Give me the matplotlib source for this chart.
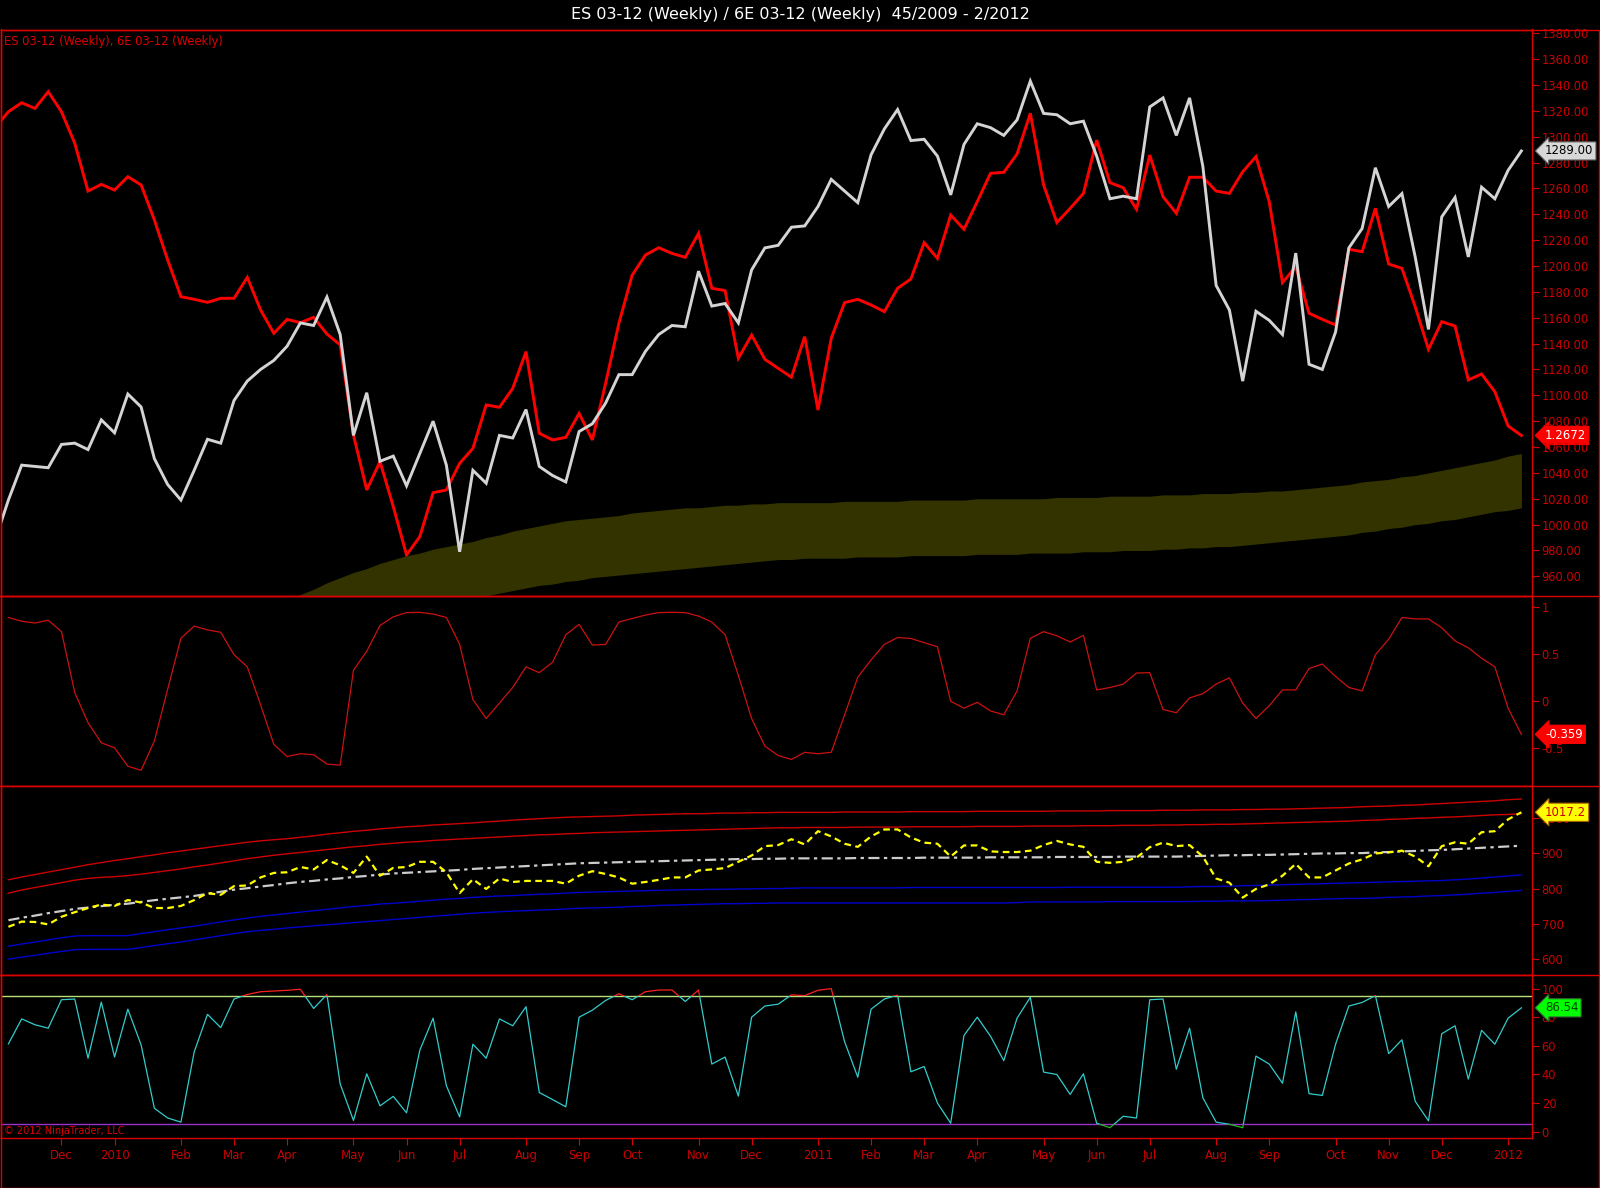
import matplotlib
matplotlib.use("Agg")
import matplotlib.pyplot as plt
import matplotlib.patches as patches
from matplotlib.lines import Line2D
from matplotlib.transforms import blended_transform_factory
from matplotlib.ticker import FixedLocator, FuncFormatter
import numpy as np
import pandas as pd

plt.rcParams['font.family'] = ['DejaVu Sans']

# weekly bars, first one sits just off the left edge
dates = pd.date_range('2009-10-30', periods=116, freq='W-FRI')

es = [988, 1019, 1046, 1045, 1044, 1062, 1063, 1058, 1081, 1071,
      1101, 1091, 1051, 1031, 1019, 1042, 1066, 1063, 1096, 1111,
      1120, 1127, 1138, 1156, 1154, 1176, 1147, 1069, 1102, 1049,
      1053, 1030, 1055, 1080, 1046, 979, 1042, 1032, 1069, 1067,
      1089, 1045, 1038, 1033, 1072, 1078, 1094, 1116, 1116, 1134,
      1147, 1154, 1153, 1196, 1169, 1171, 1156, 1197, 1214, 1216,
      1230, 1231, 1246, 1267, 1258, 1249, 1286, 1306, 1321, 1297,
      1298, 1285, 1255, 1294, 1310, 1307, 1301, 1313, 1343, 1318,
      1317, 1310, 1312, 1285, 1252, 1254, 1252, 1323, 1330, 1301,
      1330, 1277, 1185, 1166, 1111, 1165, 1158, 1147, 1210, 1124,
      1120, 1149, 1214, 1229, 1276, 1246, 1256, 1207, 1151, 1238,
      1253, 1207, 1261, 1252, 1274, 1289]

euro = [1.4790, 1.4900, 1.4962, 1.4923, 1.5038, 1.4900, 1.4683, 1.4354, 1.4400, 1.4361,
        1.4453, 1.4396, 1.4155, 1.3880, 1.3627, 1.3609, 1.3588, 1.3616, 1.3616, 1.3760,
        1.3536, 1.3375, 1.3471, 1.3448, 1.3485, 1.3370, 1.3295, 1.2675, 1.2297, 1.2492,
        1.2182, 1.1849, 1.1976, 1.2278, 1.2297, 1.2480, 1.2583, 1.2882, 1.2866, 1.2996,
        1.3249, 1.2687, 1.2641, 1.2659, 1.2824, 1.2641, 1.3031, 1.3444, 1.3776, 1.3914,
        1.3964, 1.3925, 1.3898, 1.4063, 1.3685, 1.3669, 1.3203, 1.3363, 1.3196, 1.3134,
        1.3073, 1.3352, 1.2847, 1.3341, 1.3586, 1.3609, 1.3570, 1.3524, 1.3685, 1.3749,
        1.3999, 1.3891, 1.4189, 1.4091, 1.4281, 1.4476, 1.4483, 1.4609, 1.4889, 1.4396,
        1.4137, 1.4235, 1.4338, 1.4705, 1.4412, 1.4377, 1.4228, 1.4602, 1.4315, 1.4201,
        1.4449, 1.4449, 1.4354, 1.4338, 1.4487, 1.4591, 1.4281, 1.3724, 1.3834, 1.3513,
        1.3471, 1.3432, 1.3953, 1.3937, 1.4235, 1.3852, 1.3822, 1.3558, 1.3265, 1.3455,
        1.3425, 1.3054, 1.3095, 1.2973, 1.2737, 1.2672]

# indicators start at the first visible bar (index 1)
env_upper = [825, 833, 840, 847, 854, 861, 868, 874, 880, 885,
             891, 896, 902, 907, 912, 917, 922, 927, 932, 936,
             939, 942, 946, 950, 955, 959, 963, 966, 970, 973,
             976, 978, 981, 983, 985, 987, 990, 992, 995, 997,
             999, 1001, 1003, 1004, 1005, 1006, 1007, 1009, 1010, 1011,
             1012, 1013, 1013, 1014, 1015, 1015, 1016, 1016, 1017, 1017,
             1017, 1017, 1017, 1018, 1018, 1018, 1018, 1018, 1019, 1019,
             1019, 1019, 1019, 1020, 1020, 1020, 1020, 1020, 1020, 1021,
             1021, 1021, 1021, 1022, 1022, 1022, 1022, 1023, 1023, 1023,
             1024, 1024, 1024, 1025, 1025, 1026, 1026, 1027, 1028, 1029,
             1030, 1031, 1033, 1034, 1035, 1037, 1038, 1040, 1042, 1044,
             1046, 1048, 1050, 1053, 1055]

env_lower = [787, 796, 803, 810, 817, 824, 829, 832, 834, 837,
             841, 846, 851, 856, 862, 867, 873, 879, 885, 890,
             895, 899, 903, 907, 911, 915, 919, 922, 926, 929,
             932, 934, 937, 939, 941, 943, 945, 947, 949, 951,
             953, 954, 956, 957, 959, 960, 961, 962, 963, 964,
             965, 966, 967, 968, 969, 970, 971, 972, 973, 973,
             974, 974, 974, 974, 975, 975, 975, 975, 976, 976,
             976, 976, 976, 977, 977, 977, 977, 978, 978, 978,
             978, 979, 979, 979, 980, 980, 980, 981, 981, 982,
             982, 983, 983, 984, 985, 986, 987, 988, 989, 990,
             991, 992, 994, 995, 997, 998, 1000, 1001, 1003, 1004,
             1006, 1008, 1010, 1011, 1013]

correl = [0.886, 0.846, 0.827, 0.857, 0.735, 0.085, -0.235, -0.449, -0.504, -0.699,
          -0.743, -0.430, 0.121, 0.665, 0.794, 0.754, 0.728, 0.489, 0.360, -0.044,
          -0.467, -0.596, -0.566, -0.577, -0.676, -0.688, 0.324, 0.526, 0.801, 0.893,
          0.938, 0.941, 0.923, 0.886, 0.599, 0.011, -0.191, -0.026, 0.140, 0.360,
          0.298, 0.408, 0.702, 0.813, 0.592, 0.599, 0.838, 0.875, 0.912, 0.938,
          0.941, 0.938, 0.901, 0.838, 0.702, 0.268, -0.191, -0.485, -0.585, -0.627,
          -0.551, -0.566, -0.551, -0.154, 0.250, 0.434, 0.599, 0.673, 0.662, 0.618,
          0.574, -0.007, -0.081, -0.018, -0.110, -0.151, 0.103, 0.665, 0.735, 0.691,
          0.625, 0.695, 0.114, 0.140, 0.176, 0.294, 0.298, -0.095, -0.129, 0.029,
          0.074, 0.176, 0.243, -0.026, -0.191, -0.055, 0.114, 0.114, 0.342, 0.390,
          0.257, 0.140, 0.103, 0.489, 0.654, 0.886, 0.871, 0.871, 0.776, 0.636,
          0.563, 0.452, 0.360, -0.081, -0.359]

osc = [691.1, 705.9, 704.9, 698.0, 719.8, 732.7, 744.6, 754.5, 750.5, 767.3,
       760.4, 744.6, 744.6, 750.5, 767.3, 787.1, 782.2, 807.0, 808.9, 831.7,
       844.6, 846.5, 861.4, 854.5, 881.2, 866.3, 844.6, 891.1, 836.6, 859.0,
       861.4, 876.2, 876.2, 846.5, 787.1, 826.7, 799.0, 828.7, 818.8, 821.8,
       821.8, 821.8, 813.9, 836.6, 849.5, 841.6, 831.7, 813.9, 818.8, 824.8,
       831.7, 831.7, 851.5, 854.5, 858.4, 876.2, 894.1, 920.8, 923.8, 940.6,
       925.7, 963.4, 948.5, 927.7, 918.8, 948.5, 968.3, 968.3, 945.5, 930.7,
       927.7, 891.1, 922.8, 922.8, 905.9, 904.0, 904.0, 907.9, 923.8, 935.6,
       925.7, 918.8, 876.2, 873.3, 876.2, 888.1, 917.8, 930.7, 920.8, 923.8,
       891.1, 828.7, 816.8, 774.3, 799.0, 811.9, 836.6, 870.3, 831.7, 831.7,
       851.5, 871.3, 883.2, 900.0, 903.0, 907.9, 891.1, 863.4, 920.8, 931.7,
       927.7, 960.4, 963.4, 997.0, 1017.2]

mid_line = [710, 717, 723, 730, 736, 742, 746, 750, 754, 757,
            762, 767, 771, 775, 779, 785, 791, 797, 801, 806,
            810, 815, 819, 822, 826, 829, 833, 836, 840, 843,
            845, 847, 849, 851, 853, 856, 858, 860, 862, 864,
            866, 868, 870, 872, 873, 874, 875, 876, 877, 878,
            879, 880, 881, 882, 883, 884, 884, 885, 885, 886,
            886, 886, 886, 886, 887, 887, 887, 887, 887, 888,
            888, 888, 888, 888, 889, 889, 889, 889, 889, 890,
            890, 890, 890, 890, 891, 891, 891, 891, 891, 892,
            893, 894, 895, 895, 896, 896, 897, 898, 899, 900,
            900, 901, 901, 903, 904, 906, 907, 909, 910, 912,
            914, 916, 918, 920, 922]

low_band1 = [636, 642, 648, 654, 660, 665, 666, 666, 666, 666,
             672, 677, 683, 688, 693, 699, 705, 711, 716, 721,
             725, 729, 733, 737, 741, 745, 749, 752, 756, 758,
             761, 764, 767, 770, 772, 775, 777, 779, 780, 782,
             784, 785, 787, 789, 790, 791, 792, 793, 794, 795,
             796, 797, 797, 798, 798, 799, 799, 800, 800, 801,
             802, 802, 802, 802, 802, 802, 802, 802, 803, 803,
             803, 803, 803, 803, 803, 803, 803, 803, 803, 803,
             804, 804, 804, 804, 804, 804, 804, 804, 804, 805,
             806, 806, 807, 808, 809, 810, 811, 812, 813, 814,
             815, 816, 817, 818, 819, 820, 821, 822, 823, 825,
             827, 830, 833, 836, 839]

low_band2 = [599, 605, 610, 616, 621, 626, 627, 627, 627, 627,
             632, 638, 643, 648, 654, 660, 666, 672, 677, 681,
             684, 688, 691, 694, 697, 700, 703, 706, 709, 712,
             715, 718, 721, 724, 727, 730, 732, 734, 736, 737,
             739, 740, 742, 744, 745, 746, 747, 749, 750, 752,
             753, 754, 755, 756, 757, 757, 758, 758, 759, 759,
             759, 759, 759, 759, 759, 759, 759, 759, 759, 759,
             759, 759, 759, 759, 759, 759, 760, 762, 762, 762,
             762, 762, 762, 763, 763, 763, 763, 763, 763, 763,
             764, 764, 765, 765, 765, 766, 767, 768, 769, 770,
             771, 772, 772, 773, 775, 776, 777, 779, 780, 782,
             784, 787, 789, 792, 795]

stoch = [61.3, 78.8, 74.7, 72.3, 92.2, 92.7, 51.3, 90.5, 52.1, 85.6,
         60.6, 16.3, 9.5, 6.6, 55.7, 82.0, 72.7, 92.7, 95.9, 97.8,
         98.3, 98.8, 99.5, 86.1, 95.9, 33.3, 7.8, 40.4, 18.0, 24.6,
         13.1, 56.9, 79.3, 32.1, 10.2, 61.1, 51.3, 78.8, 74.0, 87.3,
         27.3, 22.4, 17.3, 80.0, 84.9, 91.7, 96.4, 92.2, 97.8, 99.0,
         99.0, 91.0, 99.0, 47.2, 52.1, 24.8, 80.0, 87.8, 89.1, 95.6,
         95.1, 98.8, 100.0, 63.0, 38.0, 85.6, 92.7, 95.4, 41.8, 45.5,
         20.0, 5.8, 67.2, 80.0, 66.7, 49.6, 79.3, 93.9, 41.6, 39.9,
         26.0, 40.4, 5.8, 2.7, 10.7, 9.5, 92.2, 92.7, 43.6, 72.3,
         23.6, 6.6, 5.1, 2.7, 52.8, 47.2, 33.8, 83.7, 26.5, 25.3,
         61.1, 87.8, 90.3, 95.1, 54.5, 64.2, 21.2, 7.5, 68.4, 74.0,
         36.7, 70.8, 61.1, 79.3, 86.54]

RED = '#dd0000'
TXT = '#cc0000'

fig = plt.figure(figsize=(16, 11.88), dpi=100, facecolor='black')

W, H = 1600.0, 1188.0
left, right = 1 / W, 1532 / W


def right_ticks(a):
    a.yaxis.tick_right()
    a.tick_params(axis='y', colors=RED, labelcolor=TXT, labelsize=8.3, length=5, pad=2)


def panel(top_px, bot_px):
    a = fig.add_axes([left, 1 - bot_px / H, right - left, (bot_px - top_px) / H])
    a.set_facecolor('black')
    for s in a.spines.values():
        s.set_color(RED)
        s.set_linewidth(1)
    right_ticks(a)
    a.tick_params(axis='x', length=0, labelbottom=False)
    a.set_xlim(dates[0] + pd.Timedelta(days=3.1), dates[0] + pd.Timedelta(days=810.6))
    return a


ax1 = panel(29.5, 596)
ax2 = panel(596, 786)
ax3 = panel(786, 975)
ax4 = panel(975, 1138)

d1 = dates[1:]

# --- main panel: ES with envelope band, 6E overlaid on its own hidden scale
axfx = ax1.twinx()
right_ticks(ax1)  # twinx moves the host ticks to the left
axfx.set_ylim(1.1567, 1.5466)
axfx.set_yticks([])
for s in axfx.spines.values():
    s.set_visible(False)
axfx.set_facecolor('black')
axfx.plot(dates, euro, color='#ff0000', lw=2.1, solid_joinstyle='miter')
ax1.set_zorder(axfx.get_zorder() + 1)
ax1.patch.set_visible(False)

ax1.fill_between(d1, env_lower, env_upper, color='#333300', lw=0)
ax1.plot(dates, es, color='#d4d4d4', lw=2.1, solid_joinstyle='miter')
ax1.set_ylim(944.8, 1382.9)
ax1.yaxis.set_major_locator(FixedLocator(np.arange(960, 1381, 20)))
ax1.yaxis.set_major_formatter(FuncFormatter(lambda v, p: '%.2f' % v))
ax1.text(0.002, 0.978, 'ES 03-12 (Weekly), 6E 03-12 (Weekly)', transform=ax1.transAxes,
         color=RED, fontsize=8.3, ha='left', va='center')

# --- correlation panel
ax2.plot(d1, correl, color='#cc1111', lw=0.9)
ax2.set_ylim(-0.91, 1.115)
ax2.yaxis.set_major_locator(FixedLocator([-0.5, 0, 0.5, 1]))
ax2.yaxis.set_major_formatter(FuncFormatter(lambda v, p: '%g' % v))

# --- envelope panel
ax3.plot(d1, env_upper, color='#cc0000', lw=1)
ax3.plot(d1, env_lower, color='#cc0000', lw=1)
ax3.plot(d1, low_band1, color='#0000cc', lw=1)
ax3.plot(d1, low_band2, color='#0000cc', lw=1)
ax3.plot(d1, mid_line, color='#cccccc', lw=1.6, dashes=(5, 2, 1.5, 2))
ax3.plot(d1, osc, color='#ffff00', lw=1.6, dashes=(3, 2))
ax3.set_ylim(554, 1092)
ax3.yaxis.set_major_locator(FixedLocator([600, 700, 800, 900, 1000]))
ax3.yaxis.set_major_formatter(FuncFormatter(lambda v, p: '%d' % v))

# --- stochastic panel, coloured by zone
ax4.set_ylim(-4.5, 109.5)
ax4.axhline(95, color='#b8e07a', lw=1)
ax4.axhline(5, color='#9933cc', lw=1)
bt = blended_transform_factory(ax4.transAxes, ax4.transData)
for lo, hi, col in [(5, 95, '#33cccc'), (95, 120, '#ff2020'), (-20, 5, '#22bb22')]:
    ln, = ax4.plot(d1, stoch, color=col, lw=0.9)
    ln.set_clip_path(patches.Rectangle((0, lo), 1, hi - lo, transform=bt))
ax4.yaxis.set_major_locator(FixedLocator([0, 20, 40, 60, 80, 100]))
ax4.yaxis.set_major_formatter(FuncFormatter(lambda v, p: '%d' % v))
ax4.text(0.002, 0.04, '\u00a9 2012 NinjaTrader, LLC', transform=ax4.transAxes,
         color=RED, fontsize=7, ha='left', va='center')

# month ticks at the first bar of every month
tick_pos, tick_lab = [], []
for k in range(2, len(dates)):
    if dates[k].month != dates[k - 1].month:
        tick_pos.append(dates[k])
        tick_lab.append(str(dates[k].year) if dates[k].month == 1 else dates[k].strftime('%b'))
ax4.set_xticks(tick_pos)
ax4.set_xticklabels(tick_lab)
ax4.tick_params(axis='x', length=5, colors=RED, labelcolor=TXT, labelsize=8.5,
                labelbottom=True, pad=3)


# value tags on the price scale
def tag(a, y, text, fc, tc, ec=None):
    a.text(1.0085, y, text, transform=blended_transform_factory(a.transAxes, a.transData),
           ha='left', va='center', fontsize=8.5, color=tc, clip_on=False, zorder=20,
           bbox=dict(boxstyle='larrow,pad=0.22', fc=fc, ec=ec or fc, lw=0.8))


tag(ax1, es[-1], '%.2f' % es[-1], '#d8d8d8', 'black', '#555555')
tag(axfx, euro[-1], '%.4f' % euro[-1], '#ff0000', 'white')
tag(ax2, correl[-1], '%.3f' % correl[-1], '#ff0000', 'white')
tag(ax3, osc[-1], '%.1f' % osc[-1], '#ffff00', '#cc0000', '#aa6600')
tag(ax4, stoch[-1], '%.2f' % stoch[-1], '#00ff00', '#004400', '#336633')

# frame, separators, title
fig.add_artist(patches.Rectangle((0.5 / W, 0.5 / H), 1 - 1.5 / W, 1 - 29.5 / H - 0.5 / H,
                                 transform=fig.transFigure, fill=False, ec=RED, lw=1))
for ypx in (596, 786, 975):
    fig.add_artist(Line2D([0, 1], [1 - ypx / H] * 2, transform=fig.transFigure, color=RED, lw=1))
fig.text(0.5, 1 - 14 / H, 'ES 03-12 (Weekly) / 6E 03-12 (Weekly)  45/2009 - 2/2012',
         color='white', fontsize=11.5, ha='center', va='center')

fig.savefig('out.png', dpi=100, facecolor='black')
